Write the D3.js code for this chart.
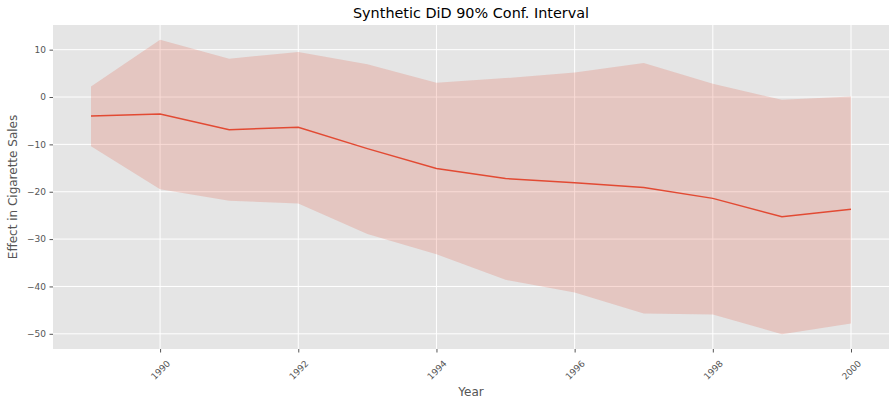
<!DOCTYPE html>
<html>
<head>
<meta charset="utf-8">
<script src="https://cdn.jsdelivr.net/npm/d3@7"></script>
<style>
  body { margin: 0; background: #fff; }
  text { font-family: "DejaVu Sans", sans-serif; }
</style>
</head>
<body>
<div id="chart"></div>
<script>
// data
var years = [1989, 1990, 1991, 1992, 1993, 1994, 1995, 1996, 1997, 1998, 1999, 2000];
var effect = [-4.0, -3.6, -6.9, -6.4, -10.9, -15.1, -17.2, -18.1, -19.1, -21.4, -25.3, -23.7];
var upper = [2.2, 12.1, 8.1, 9.5, 6.9, 3.0, 4.0, 5.2, 7.2, 2.8, -0.6, 0.1];
var lower = [-10.4, -19.5, -21.9, -22.5, -28.9, -33.2, -38.6, -41.3, -45.7, -45.9, -50.1, -47.8];
var xTicks = [1990, 1992, 1994, 1996, 1998, 2000];
var yTicks = [10, 0, -10, -20, -30, -40, -50];

var W = 896, H = 406;
var margin = {top: 25, right: 7, bottom: 57, left: 53};
var w = W - margin.left - margin.right,
    h = H - margin.top - margin.bottom;

var dados = years.map((d, i) => ({ano: d, mid: effect[i], hi: upper[i], lo: lower[i]}));

var svg = d3.select('#chart')
  .append('svg')
    .attr('width', W)
    .attr('height', H);

var grafico = svg.append('g')
    .attr('transform', 'translate(' + margin.left + ',' + margin.top + ')');

/*
 * escalas (margens de 5% como no matplotlib)
 */
var xmin = d3.min(years), xmax = d3.max(years);
var xpad = (xmax - xmin) * 0.05;
var x = d3.scaleLinear()
    .domain([xmin - xpad, xmax + xpad])
    .range([0, w]);

var ymin = d3.min(lower), ymax = d3.max(upper);
var ypad = (ymax - ymin) * 0.05;
var y = d3.scaleLinear()
    .domain([ymin - ypad, ymax + ypad])
    .range([h, 0]);

// fundo
grafico.append('rect')
    .attr('width', w)
    .attr('height', h)
    .attr('fill', '#E5E5E5');

// grade
grafico.selectAll('.gx')
  .data(xTicks)
  .enter()
  .append('line')
    .attr('x1', d => x(d)).attr('x2', d => x(d))
    .attr('y1', 0).attr('y2', h)
    .attr('stroke', '#fff')
    .attr('stroke-width', 1);

grafico.selectAll('.gy')
  .data(yTicks)
  .enter()
  .append('line')
    .attr('x1', 0).attr('x2', w)
    .attr('y1', d => y(d)).attr('y2', d => y(d))
    .attr('stroke', '#fff')
    .attr('stroke-width', 1);

/*
 * as marcas
 */
var area = d3.area()
    .x(d => x(d.ano))
    .y0(d => y(d.lo))
    .y1(d => y(d.hi));

grafico.append('path')
    .datum(dados)
    .attr('d', area)
    .attr('fill', '#E24A33')
    .attr('fill-opacity', 0.2);

var linha = d3.line()
    .x(d => x(d.ano))
    .y(d => y(d.mid));

grafico.append('path')
    .datum(dados)
    .attr('d', linha)
    .attr('fill', 'none')
    .attr('stroke', '#E24A33')
    .attr('stroke-width', 1.5);

/*
 * os eixos
 */
var fmt = d => d < 0 ? '\u2212' + Math.abs(d) : '' + d;

var eixoX = grafico.append('g')
    .attr('transform', 'translate(0,' + h + ')')
    .call(d3.axisBottom(x).tickValues(xTicks).tickFormat(d3.format('d')).tickSize(3.5).tickPadding(3.5));
eixoX.select('.domain').remove();
eixoX.selectAll('line').attr('stroke', '#555');
eixoX.selectAll('text')
    .attr('fill', '#555')
    .attr('font-size', 9)
    .attr('text-anchor', 'middle')
    .attr('y', 0)
    .attr('dy', '0.35em')
    .attr('transform', 'translate(0,21) rotate(-45)');

var eixoY = grafico.append('g')
    .call(d3.axisLeft(y).tickValues(yTicks).tickFormat(fmt).tickSize(3.5).tickPadding(3.5));
eixoY.select('.domain').remove();
eixoY.selectAll('line').attr('stroke', '#555');
eixoY.selectAll('text')
    .attr('fill', '#555')
    .attr('font-size', 9);

// textos
svg.append('text')
    .attr('x', margin.left + w / 2)
    .attr('y', 18)
    .attr('text-anchor', 'middle')
    .attr('font-size', 14.4)
    .attr('fill', '#000')
    .text('Synthetic DiD 90% Conf. Interval');

svg.append('text')
    .attr('x', margin.left + w / 2)
    .attr('y', 396)
    .attr('text-anchor', 'middle')
    .attr('font-size', 12)
    .attr('fill', '#555')
    .text('Year');

svg.append('text')
    .attr('transform', 'translate(17,' + (margin.top + h / 2) + ') rotate(-90)')
    .attr('text-anchor', 'middle')
    .attr('font-size', 12)
    .attr('fill', '#555')
    .text('Effect in Cigarette Sales');
</script>
</body>
</html>
